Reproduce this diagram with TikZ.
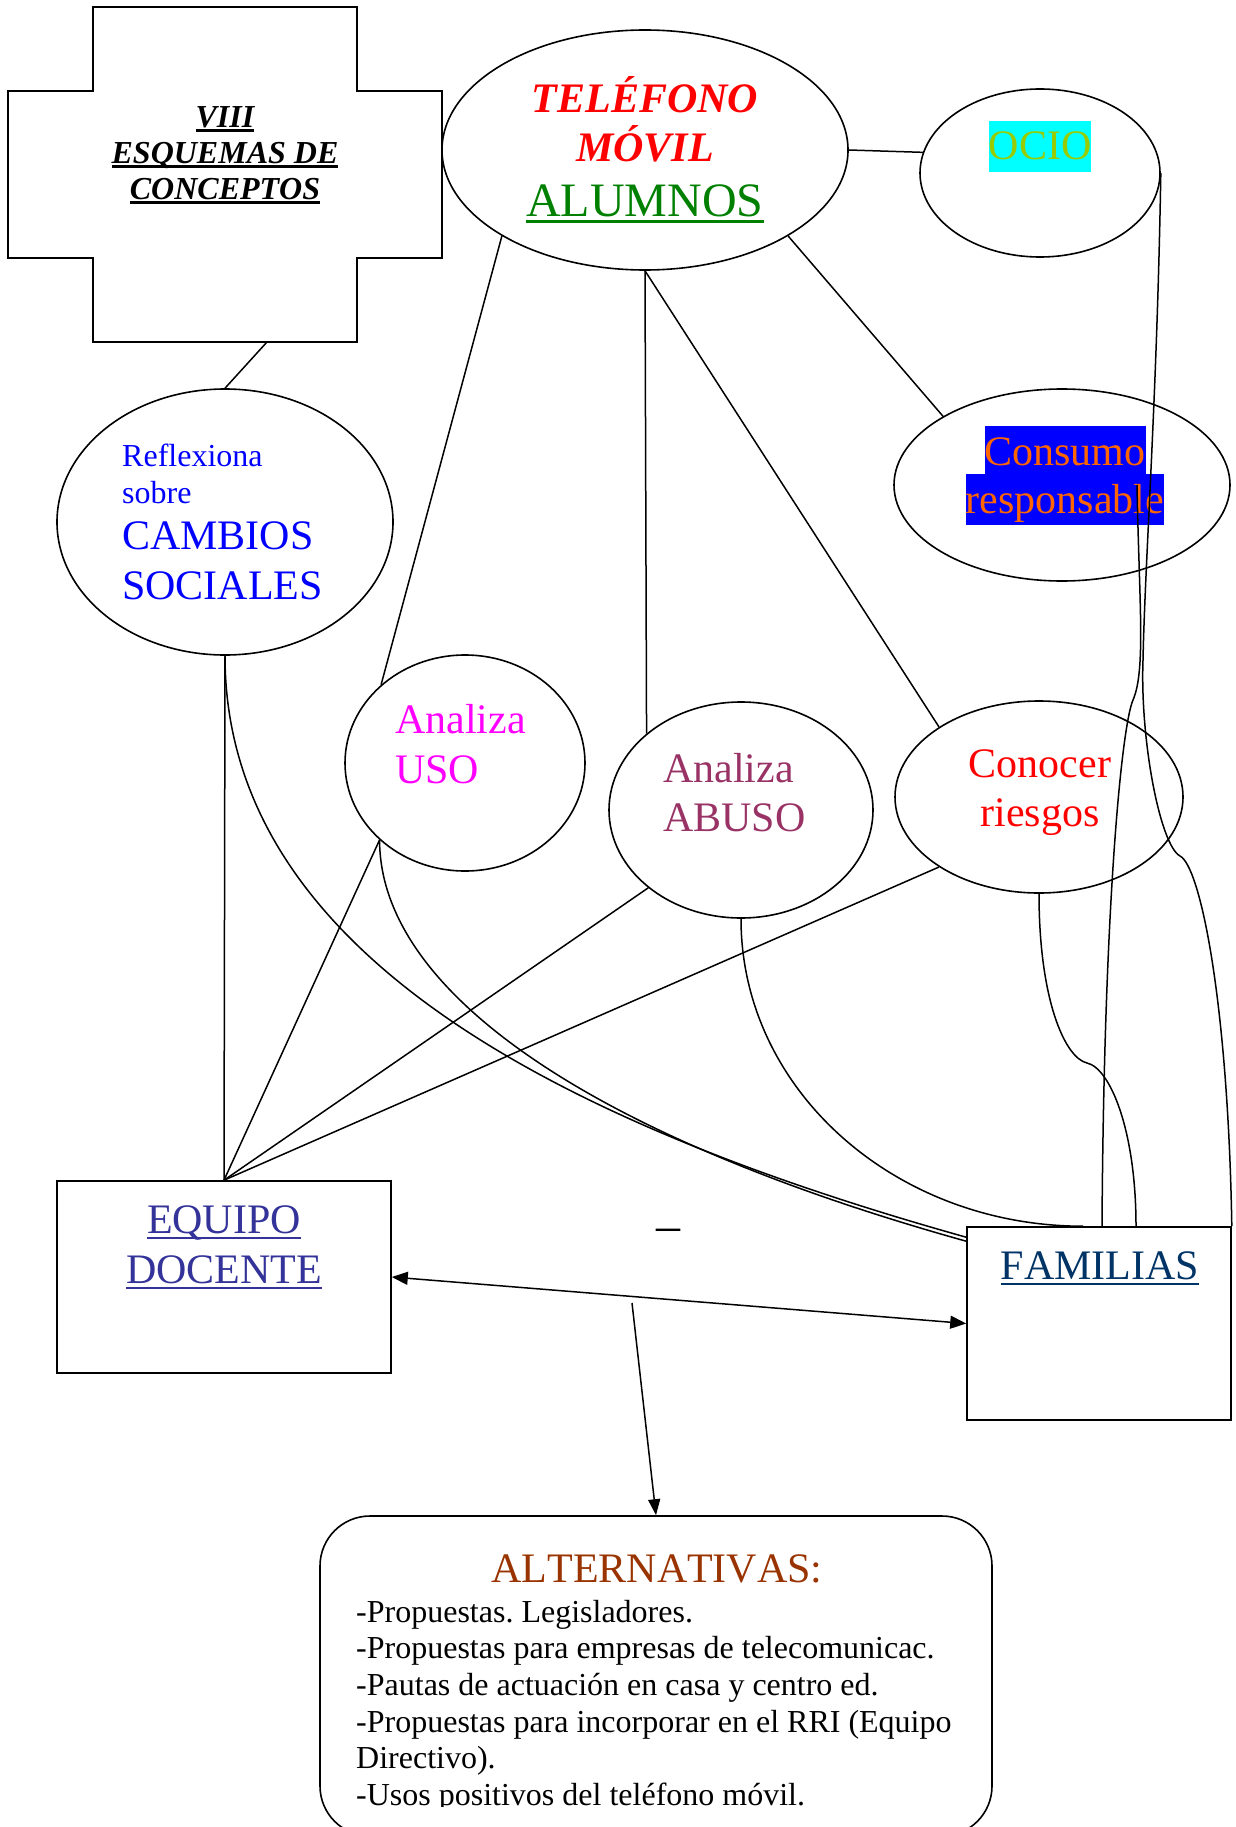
\documentclass[tikz,border=0pt]{standalone}
\usepackage{fontspec}
\setmainfont{Liberation Serif}[Kerning=Off]
\usetikzlibrary{shapes.geometric,arrows.meta,calc}
\definecolor{alugreen}{HTML}{008000}
\definecolor{ociotext}{HTML}{99CC00}
\definecolor{ociobg}{HTML}{00FFFF}
\definecolor{constext}{HTML}{FF6600}
\definecolor{consbg}{HTML}{0000FF}
\definecolor{reflblue}{HTML}{0000FF}
\definecolor{usomag}{HTML}{FF00FF}
\definecolor{abusoc}{HTML}{993366}
\definecolor{equipoc}{HTML}{333399}
\definecolor{famc}{HTML}{003366}
\definecolor{altc}{HTML}{993300}
\newcommand{\myul}[3]{\setbox0\hbox{#3}\rlap{\vrule height -#1 depth #2 width \wd0}\box0}
\frenchspacing
\begin{document}
\begin{tikzpicture}[x=1pt,y=-1pt,
  shp/.style={draw, line width=1.6pt, inner sep=0pt},
  ell/.style={shp, ellipse},
  lbl/.style={inner sep=0pt, anchor=base},
  lbll/.style={inner sep=0pt, anchor=base west},
  big/.style={font=\fontsize{42}{48}\selectfont},
  med/.style={font=\fontsize{32}{37}\selectfont},
  conn/.style={draw=black, line width=1.5pt},
  tip/.style={-{Triangle[length=16pt,width=12pt]}},
  dtip/.style={{Triangle[length=16pt,width=13pt]}-{Triangle[length=16pt,width=13pt]}}
]
\useasboundingbox (0,0) rectangle (1235,1827);

% cross shape
\draw[line width=1.6pt] (93,7) -- (357,7) -- (357,91) -- (442,91) -- (442,258) -- (357,258)
  -- (357,342) -- (93,342) -- (93,258) -- (8,258) -- (8,91) -- (93,91) -- cycle;
\coordinate (crossB) at (267,342);
\node[lbl, font=\fontsize{32}{37}\selectfont\bfseries\itshape] (x1) at (225,128) {\myul{1.5pt}{4.2pt}{VIII}};
\node[lbl, font=\fontsize{32}{37}\selectfont\bfseries\itshape] (x2) at (225,163.5) {\myul{1.5pt}{4.2pt}{ESQUEMAS DE}};
\node[lbl, font=\fontsize{32}{37}\selectfont\bfseries\itshape] (x3) at (225,200) {\myul{1.5pt}{4.2pt}{CONCEPTOS}};

% shapes
\node[ell, minimum width=406pt, minimum height=240pt] (tel) at (645,150) {};
\node[ell, minimum width=240pt, minimum height=168pt] (ocio) at (1040,173) {};
\node[ell, minimum width=336pt, minimum height=192pt] (cons) at (1062,485) {};
\node[ell, minimum width=336pt, minimum height=266pt] (refl) at (225,522) {};
\node[ell, minimum width=240pt, minimum height=216pt] (uso) at (465,763) {};
\node[ell, minimum width=264pt, minimum height=216pt] (abuso) at (741,810) {};
\node[ell, minimum width=288pt, minimum height=192pt] (con) at (1039,797) {};
\node[shp, rectangle, minimum width=334pt, minimum height=192pt] (eq) at (224,1277) {};
\node[shp, rectangle, minimum width=264pt, minimum height=193pt] (fam) at (1099,1323.5) {};
\node[shp, rectangle, rounded corners=50pt, minimum width=672pt, minimum height=320pt] (alt) at (656,1676) {};

% texts
\node[lbl, font=\fontsize{42}{48}\selectfont\bfseries\itshape, text=red] (t1) at (645,113) {TELÉFONO};
\node[lbl, font=\fontsize{42}{48}\selectfont\bfseries\itshape, text=red] (t2) at (645,162) {MÓVIL};
\node[lbl, font=\fontsize{48}{54}\selectfont, text=alugreen] (t3) at (645,217) {\myul{2.6pt}{5.8pt}{ALUMNOS}};

\node[lbl, big, text=ociotext, fill=ociobg, text height=39pt, text depth=12pt] (o1) at (1040,160) {OCIO};

\node[lbl, big, text=constext, fill=consbg, text height=39pt, text depth=9pt] (c1) at (1065,465) {Consumo};
\node[lbl, big, text=constext, fill=consbg, text height=39pt, text depth=12pt] (c2) at (1065,513) {responsable};

\node[lbll, med, text=reflblue] (r1) at (122,466) {Reflexiona};
\node[lbll, med, text=reflblue] (r2) at (122,503) {sobre};
\node[lbll, big, text=reflblue] (r3) at (122,549) {CAMBIOS};
\node[lbll, big, text=reflblue] (r4) at (122,599) {SOCIALES};

\node[lbll, big, text=usomag] (u1) at (395,733) {Analiza};
\node[lbll, big, text=usomag] (u2) at (395,783) {USO};

\node[lbll, big, text=abusoc] (b1) at (663,782) {Analiza};
\node[lbll, big, text=abusoc] (b2) at (663,831) {ABUSO};

\node[lbl, big, text=red] (k1) at (1040,777) {Conocer};
\node[lbl, big, text=red] (k2) at (1040,826) {riesgos};

\node[lbl, big, text=equipoc] (e1) at (224,1233) {\myul{3.5pt}{5.5pt}{EQUIPO}};
\node[lbl, big, text=equipoc] (e2) at (224,1283) {\myul{3.5pt}{5.5pt}{DOCENTE}};

\node[lbl, big, text=famc] (f1) at (1100,1279) {\myul{3.5pt}{5.8pt}{FAMILIAS}};

\node[lbl, font=\fontsize{48}{54}\selectfont] (dash) at (668,1241) {–};

\node[lbl, big, text=altc] (a0) at (657,1582) {ALTERNATIVAS:};
\node[lbll, med] (a1) at (356,1622) {-Propuestas. Legisladores.};
\node[lbll, med] (a2) at (356,1658) {-Propuestas para empresas de telecomunicac.};
\node[lbll, med] (a3) at (356,1695) {-Pautas de actuación en casa y centro ed.};
\node[lbll, med] (a4) at (356,1732) {-Propuestas para incorporar en el RRI (Equipo};
\node[lbll, med] (a5) at (356,1768) {Directivo).};
\begin{scope}
\clip (300,1500) rectangle (1000,1806);
\node[lbll, med] (a6) at (356,1805) {-Usos positivos del teléfono móvil.};
\end{scope}

% connectors
\draw[conn] (crossB) -- (refl.north);
\draw[conn] (tel.east) -- (ocio.170);
\draw[conn] (tel.-149) -- (uso.137);
\draw[conn] (tel.south) -- (abuso.141);
\draw[conn] (tel.south) -- (con.145);
\draw[conn] (tel.-31) -- (cons.150);
\draw[conn] (refl.south) -- (eq.north);
\draw[conn] (uso.-138) -- (eq.north);
\draw[conn] (abuso.-140) -- (eq.north);
\draw[conn] (con.-145) -- (eq.north);

\draw[conn] (refl.south) .. controls +(0,300) and +(-400,-112) .. ([yshift=-11pt]fam.north west);
\draw[conn] (uso.-138) .. controls +(0,150) and +(-380,-106) .. ([yshift=-15pt]fam.north west);
\draw[conn] (abuso.south) .. controls +(0,171) and +(-188,0) .. ([xshift=-16pt]fam.north);
\draw[conn] (con.south) .. controls (1039,1000) and (1065,1058) .. (1087,1063)
  .. controls (1110,1068) and (1136,1130) .. ([xshift=37pt]fam.north);
\draw[conn] (ocio.east) .. controls (1157,400) and (1145,560) .. (1143,660)
  .. controls (1140,740) and (1160,845) .. (1180,856)
  .. controls (1200,866) and (1228,1000) .. (fam.north east);
\coordinate (consIn) at ([xshift=75pt]cons.center);
\draw[conn] (consIn) .. controls (1139,600) and (1146,670) .. (1133,700)
  .. controls (1122,725) and (1104,900) .. ([xshift=3pt]fam.north);

\draw[conn, dtip] (eq.east) -- (fam.west);
\coordinate (splitS) at (632,1303);
\draw[conn, tip] (splitS) -- (alt.north);
\end{tikzpicture}
\end{document}
